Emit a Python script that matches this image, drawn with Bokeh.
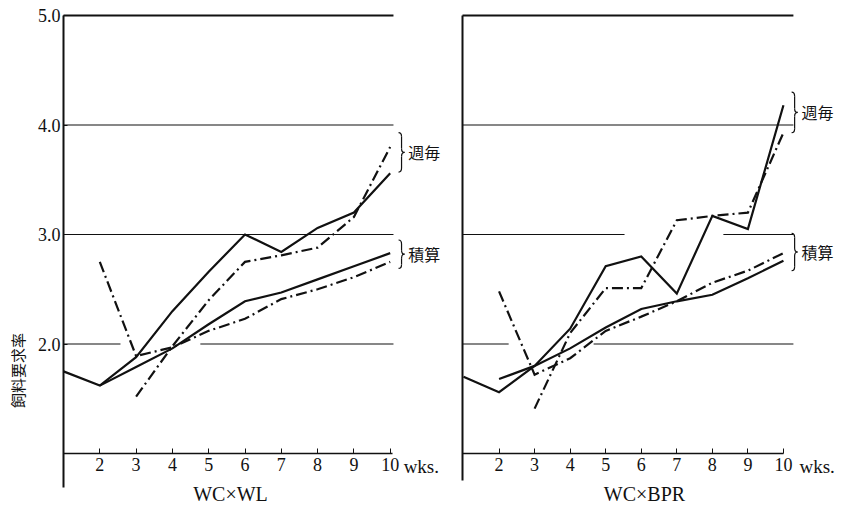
import math
from bokeh.plotting import figure
from bokeh.layouts import row
from bokeh.models import Range1d, LinearAxis, FixedTicker
from bokeh.core.properties import value
from bokeh.embed import file_html
from bokeh.resources import INLINE

# ---------------- data ----------------
weeks = [1, 2, 3, 4, 5, 6, 7, 8, 9, 10]
x_ticks = [2, 3, 4, 5, 6, 7, 8, 9, 10]
x_tick_labels = ["2", "3", "4", "5", "6", "7", "8", "9", "10"]
y_ticks = [2.0, 3.0, 4.0, 5.0]
y_tick_labels = ["2.0", "3.0", "4.0", "5.0"]
panel_titles = ["WC×WL", "WC×BPR"]
group_labels = ["週毎", "積算"]          # weekly / cumulative
y_title = "飼料要求率"
unit_label = "wks."

# WC×WL
wl_solid_weekly_wk = weeks
wl_solid_weekly = [1.75, 1.62, 1.88, 2.30, 2.66, 3.00, 2.84, 3.06, 3.20, 3.56]
wl_solid_cum_wk = weeks[1:]
wl_solid_cum = [1.62, 1.79, 1.96, 2.18, 2.39, 2.47, 2.59, 2.71, 2.83]
wl_dd_weekly_wk = weeks[2:]
wl_dd_weekly = [1.52, 1.98, 2.40, 2.75, 2.81, 2.88, 3.16, 3.80]
wl_dd_cum_wk = weeks[1:]
wl_dd_cum = [2.75, 1.89, 1.97, 2.12, 2.23, 2.41, 2.50, 2.61, 2.75]

# WC×BPR
bpr_solid_weekly_wk = weeks
bpr_solid_weekly = [1.70, 1.56, 1.80, 2.14, 2.71, 2.80, 2.46, 3.17, 3.05, 4.18]
bpr_solid_cum_wk = weeks[1:]
bpr_solid_cum = [1.68, 1.80, 1.96, 2.15, 2.32, 2.39, 2.45, 2.60, 2.76]
bpr_dd_weekly_wk = weeks[2:]
bpr_dd_weekly = [1.41, 2.10, 2.51, 2.51, 3.13, 3.17, 3.20, 3.93]
bpr_dd_cum_wk = weeks[1:]
bpr_dd_cum = [2.48, 1.72, 1.87, 2.12, 2.25, 2.39, 2.56, 2.67, 2.83]

# ---------------- styling / geometry ----------------
SERIF = "Liberation Serif"
CJK = "Noto Sans CJK JP"
INK = "#111111"
DASHDOT = "11 4 2 4"
FIG_H = 508
PX_Y = 109.5                       # pixels per unit of the ratio
Y_END = 5.0 + 15 / PX_Y            # 5.0 sits 15 px below the top
Y_START = Y_END - FIG_H / PX_Y


def label_axis(text, bounds, standoff, size, font, fixed, side, p):
    """An axis with no line or ticks, used only to carry a title."""
    ax = LinearAxis(ticker=FixedTicker(ticks=[]), fixed_location=fixed,
                    axis_label=text, bounds=bounds)
    ax.axis_line_color = None
    ax.major_tick_line_color = None
    ax.minor_tick_line_color = None
    ax.major_tick_out = 0
    ax.major_tick_in = 0
    ax.axis_label_standoff = standoff
    ax.axis_label_text_font = font
    ax.axis_label_text_font_size = size
    ax.axis_label_text_font_style = "normal"
    ax.axis_label_text_color = INK
    p.add_layout(ax, side)


def make_panel(width, origin_px, px_week, origin_week, axis_bounds, y_bounds,
               grid, show_ylabels):
    x_start = origin_week - origin_px / px_week
    p = figure(width=width, height=FIG_H, output_backend="svg", toolbar_location=None,
               x_range=Range1d(x_start, x_start + width / px_week),
               y_range=Range1d(Y_START, Y_END),
               x_axis_type=None, y_axis_type=None, title=None,
               min_border=0)
    p.outline_line_color = None
    p.background_fill_color = "white"
    p.border_fill_color = "white"

    if show_ylabels:
        yax = LinearAxis(ticker=FixedTicker(ticks=y_ticks),
                         major_label_overrides={t: l for t, l in zip(y_ticks, y_tick_labels)},
                         fixed_location=origin_week)
    else:
        yax = LinearAxis(ticker=FixedTicker(ticks=[]), fixed_location=origin_week)
    yax.bounds = y_bounds
    yax.axis_line_width = 2
    yax.axis_line_color = INK
    yax.major_tick_in = 4
    yax.major_tick_out = 0
    yax.major_tick_line_color = INK
    yax.minor_tick_line_color = None
    yax.major_label_standoff = 3
    yax.major_label_text_font = SERIF
    yax.major_label_text_font_size = "18px"
    yax.major_label_text_color = INK
    p.add_layout(yax, "left")

    xax = LinearAxis(ticker=FixedTicker(ticks=x_ticks),
                     major_label_overrides={t: l for t, l in zip(x_ticks, x_tick_labels)},
                     fixed_location=1.0)
    xax.bounds = axis_bounds
    xax.axis_line_width = 1.6
    xax.axis_line_color = INK
    xax.major_tick_in = 5
    xax.major_tick_out = 0
    xax.major_tick_line_color = INK
    xax.minor_tick_line_color = None
    xax.major_label_standoff = 4
    xax.major_label_text_font = SERIF
    xax.major_label_text_font_size = "18px"
    xax.major_label_text_color = INK
    p.add_layout(xax, "below")

    for (yv, x0, x1, lw) in grid:
        p.segment(x0=[x0], y0=[yv], x1=[x1], y1=[yv], line_color=INK, line_width=lw)
    return p


def brace(p, x, y0, y1, w_px, px_week):
    w = w_px / px_week
    d = 4 / PX_Y
    ym = (y0 + y1) / 2
    h = x + w / 2
    p.quadratic(x0=[x, h, x + w, h], y0=[y1, ym + d, ym, y0 + d],
                x1=[h, x + w, h, x], y1=[y1 - d, ym, ym - d, y0],
                cx=[h, h, h, h], cy=[y1, ym, ym, y0],
                line_color=INK, line_width=1.2)
    p.segment(x0=[h, h], y0=[y1 - d, ym - d], x1=[h, h], y1=[ym + d, y0 + d],
              line_color=INK, line_width=1.2)


def series(p, xs, ys, dashed):
    p.line(xs, ys, line_color=INK, line_width=2.2,
           line_dash=DASHDOT if dashed else "solid", line_join="miter")


def texts(p, x, y, t, font, size, align="left"):
    p.text(x=[x], y=[y], text=[t], text_font=value(font), text_font_size=size,
           text_align=align, text_baseline="middle", text_color=INK)


# ---------------- left panel ----------------
PXW_L = 36.3
left = make_panel(445, 63, PXW_L, 1.0, (1.0, 10.05), (0.69, 5.0),
                  grid=[(5.0, 1.0, 10.09, 2.2), (4.0, 1.0, 10.09, 1.2),
                        (3.0, 1.0, 10.09, 1.2), (2.0, 1.0, 2.57, 1.2),
                        (2.0, 4.77, 10.09, 1.2)],
                  show_ylabels=True)
series(left, wl_solid_weekly_wk, wl_solid_weekly, False)
series(left, wl_solid_cum_wk, wl_solid_cum, False)
series(left, wl_dd_weekly_wk, wl_dd_weekly, True)
series(left, wl_dd_cum_wk, wl_dd_cum, True)
brace(left, 10.23, 3.57, 3.93, 6, PXW_L)
brace(left, 10.23, 2.69, 2.95, 6, PXW_L)
texts(left, 10.50, 3.75, group_labels[0], CJK, "16px")
texts(left, 10.50, 2.82, group_labels[1], CJK, "16px")
texts(left, 10.37, 0.885, unit_label, SERIF, "19px")
label_axis(panel_titles[0], (1.0, 10.2), 29, "20px", SERIF, 1.0, "below", left)
label_axis(y_title, (1.32, 2.20), 36, "15px", CJK, 1.0, "left", left)

# ---------------- right panel ----------------
PXW_R = 35.55
XS_R = 1 - 1 / PXW_R
right = make_panel(400, 17, PXW_R, XS_R, (XS_R, 10.0), (0.75, 5.0),
                   grid=[(5.0, XS_R, 10.28, 2.2), (4.0, XS_R, 10.28, 1.2),
                         (3.0, XS_R, 5.53, 1.2), (3.0, 8.31, 10.28, 1.2),
                         (2.0, XS_R, 2.27, 1.2), (2.0, 4.66, 10.28, 1.2)],
                   show_ylabels=False)
series(right, bpr_solid_weekly_wk, bpr_solid_weekly, False)
series(right, bpr_solid_cum_wk, bpr_solid_cum, False)
series(right, bpr_dd_weekly_wk, bpr_dd_weekly, True)
series(right, bpr_dd_cum_wk, bpr_dd_cum, True)
brace(right, 10.23, 3.93, 4.30, 6, PXW_R)
brace(right, 10.23, 2.67, 3.01, 6, PXW_R)
texts(right, 10.51, 4.12, group_labels[0], CJK, "16px")
texts(right, 10.51, 2.84, group_labels[1], CJK, "16px")
texts(right, 10.45, 0.885, unit_label, SERIF, "19px")
label_axis(panel_titles[1], (2.18, 10.0), 29, "20px", SERIF, 1.0, "below", right)

layout = row(left, right)
open("out.html", "w").write(file_html(layout, INLINE))
